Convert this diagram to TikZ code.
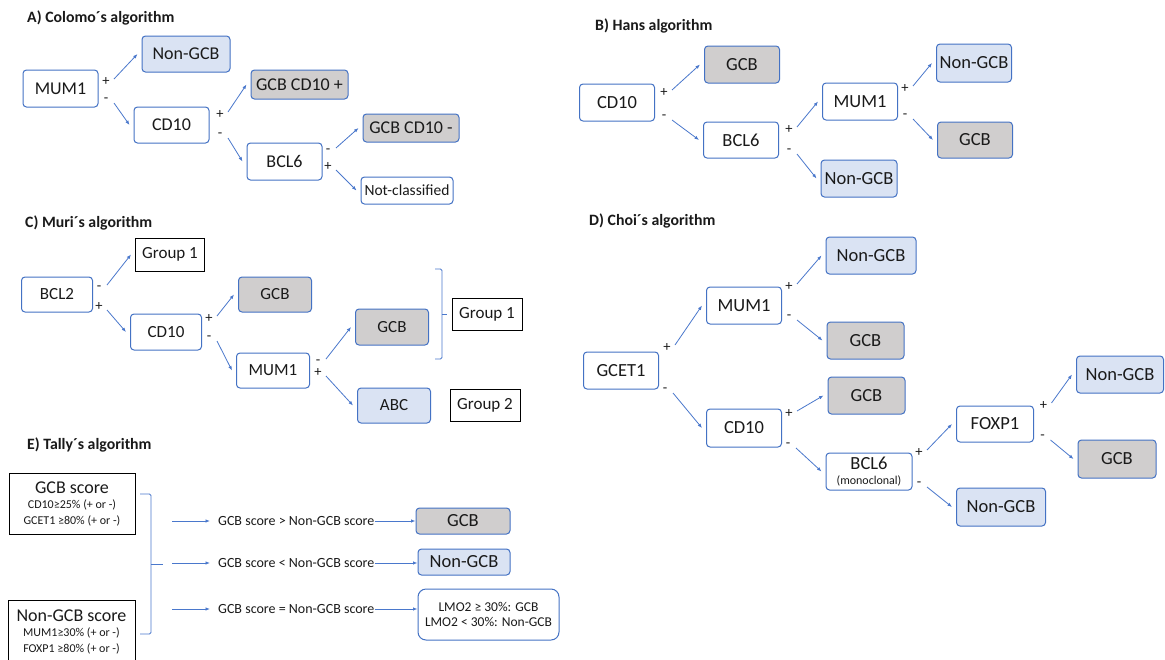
\documentclass[tikz,border=0pt]{standalone}
\usepackage{fontspec}
\setmainfont{Carlito}
\usetikzlibrary{arrows.meta}
\definecolor{edgeblue}{HTML}{4472C4}
\definecolor{lineblue}{HTML}{4A78CC}
\definecolor{bluefill}{HTML}{DAE3F3}
\definecolor{grayfill}{HTML}{D0CECE}
\definecolor{ink}{HTML}{1A1A1A}
\begin{document}
\begin{tikzpicture}[x=1pt,y=-1pt,
  wh/.style 2 args={minimum width=#1,minimum height=#2},
  rbox/.style={draw=edgeblue,line width=1pt,rounded corners=3.5pt,fill=white,inner sep=0pt,text=ink},
  nbox/.style={rbox,fill=bluefill},
  gbox/.style={rbox,fill=grayfill},
  sqbox/.style={draw=black,line width=1pt,fill=white,inner sep=0pt,text=ink},
  sign/.style={inner sep=0pt,font=\fontsize{14.5}{14.5}\selectfont,text=ink},
  ttl/.style={anchor=west,inner sep=0pt,font=\bfseries\fontsize{15.8}{18}\selectfont,text=ink},
  rowtxt/.style={anchor=west,inner xsep=0pt,inner ysep=2pt,font=\fontsize{14}{15}\selectfont,text=ink},
  arr/.style={draw=lineblue,line width=0.8pt,-{Latex[length=4.5pt,width=3.5pt]}},
  brk/.style={draw=lineblue,line width=0.9pt,rounded corners=1.5pt},
  upoff/.style={shift={(8,-3)}},
  dnoff/.style={shift={(8,3)}},
  endoff/.style={xshift=-4pt}
]
\fill[white] (0,0) rectangle (1165,659);
\useasboundingbox (0,0) rectangle (1165,659);

% ---------- A) Colomo
\node[ttl] (aT) at (27,18) {A) Colomo´s algorithm};
\begin{scope}[font=\fontsize{18}{20}\selectfont]
\node[rbox,wh={75}{37}] (aMUM) at (60.5,88.5) {MUM1};
\node[nbox,wh={88}{36}] (aNon) at (186,54) {Non-GCB};
\node[rbox,wh={75}{36}] (aCD) at (171.5,125) {CD10};
\node[gbox,wh={97}{29}] (aG1) at (299.5,84.5) {GCB CD10 +};
\node[rbox,wh={75}{37}] (aBCL) at (284.5,161.5) {BCL6};
\node[gbox,wh={96}{28}] (aG2) at (411,128) {GCB CD10 -};
\node[rbox,wh={92}{27},font=\fontsize{15.5}{17}\selectfont] (aNC) at (407,190.5) {Not-classified};
\end{scope}
\node[sign] (aP1) at (106,82) {+};
\node[sign] (aM1) at (106,100) {-};
\node[sign] (aP2) at (220,115) {+};
\node[sign] (aM2) at (220,135) {-};
\node[sign] (aM3) at (328,151) {-};
\node[sign] (aP3) at (328,167) {+};
\draw[arr] ([upoff]aP1.center) -- ([endoff]aNon.west);
\draw[arr] ([dnoff]aM1.center) -- ([endoff]aCD.west);
\draw[arr] ([upoff]aP2.center) -- ([endoff]aG1.west);
\draw[arr] ([dnoff]aM2.center) -- ([endoff]aBCL.west);
\draw[arr] ([upoff]aM3.center) -- ([endoff]aG2.west);
\draw[arr] ([dnoff]aP3.center) -- ([endoff]aNC.west);

% ---------- B) Hans
\node[ttl] (bT) at (595,26) {B) Hans algorithm};
\begin{scope}[font=\fontsize{18.5}{20}\selectfont]
\node[rbox,wh={75}{37}] (bCD) at (617,102.5) {CD10};
\node[gbox,wh={75}{37}] (bG1) at (742,64.5) {GCB};
\node[rbox,wh={75}{36}] (bBCL) at (741,140) {BCL6};
\node[rbox,wh={75}{37}] (bMUM) at (860,101.5) {MUM1};
\node[nbox,wh={75}{38}] (bN1) at (974,63) {Non-GCB};
\node[gbox,wh={75}{36}] (bG2) at (975,140) {GCB};
\node[nbox,wh={76}{37}] (bN2) at (859,178.5) {Non-GCB};
\end{scope}
\node[sign] (bP1) at (664,93) {+};
\node[sign] (bM1) at (664,117) {-};
\node[sign] (bP2) at (789,130) {+};
\node[sign] (bM2) at (789,151) {-};
\node[sign] (bP3) at (905,89) {+};
\node[sign] (bM3) at (905,116) {-};
\draw[arr] ([upoff]bP1.center) -- ([endoff]bG1.west);
\draw[arr] ([dnoff]bM1.center) -- ([endoff]bBCL.west);
\draw[arr] ([upoff]bP2.center) -- ([endoff]bMUM.west);
\draw[arr] ([dnoff]bM2.center) -- ([endoff]bN2.west);
\draw[arr] ([upoff]bP3.center) -- ([endoff]bN1.west);
\draw[arr] ([dnoff]bM3.center) -- ([endoff]bG2.west);

% ---------- C) Muri
\node[ttl] (cT) at (25,223) {C) Muri´s algorithm};
\begin{scope}[font=\fontsize{17}{19}\selectfont]
\node[sqbox,wh={69}{33}] (cGr0) at (170,254.5) {Group 1};
\node[rbox,wh={71}{35}] (cBCL) at (57,294.5) {BCL2};
\node[rbox,wh={71}{36}] (cCD) at (166,332) {CD10};
\node[gbox,wh={73}{35}] (cG1) at (275,294.5) {GCB};
\node[rbox,wh={73}{35}] (cMUM) at (273,370.5) {MUM1};
\node[gbox,wh={73}{36}] (cG2) at (392,327) {GCB};
\node[nbox,wh={73}{35}] (cABC) at (394,405.5) {ABC};
\node[sqbox,wh={70}{32}] (cGr1) at (487,314) {Group 1};
\node[sqbox,wh={70}{32}] (cGr2) at (485,405) {Group 2};
\end{scope}
\node[sign] (cM1) at (99,288) {-};
\node[sign] (cP1) at (99,307) {+};
\node[sign] (cP2) at (209,319) {+};
\node[sign] (cM2) at (209,338) {-};
\node[sign] (cM3) at (318,362) {-};
\node[sign] (cP3) at (318,373) {+};
\draw[arr] ([upoff]cM1.center) -- ([endoff]cGr0.west);
\draw[arr] ([dnoff]cP1.center) -- ([endoff]cCD.west);
\draw[arr] ([upoff]cP2.center) -- ([endoff]cG1.west);
\draw[arr] ([dnoff]cM2.center) -- ([endoff]cMUM.west);
\draw[arr] ([upoff]cM3.center) -- ([endoff]cG2.west);
\draw[arr] ([dnoff]cP3.center) -- ([endoff]cABC.west);
% bracket grouping the upper branches
\coordinate (cBt) at (435,269);
\coordinate (cBb) at (435,359);
\coordinate (cBm) at (442,314);
\draw[brk] (cBt) -- ++(7,0) -- ++(0,90) -- (cBb);
\draw[brk] (cBm) -- ++(4.5,0);

% ---------- D) Choi
\node[ttl] (dT) at (589,221) {D) Choi´s algorithm};
\begin{scope}[font=\fontsize{18.5}{20}\selectfont]
\node[rbox,wh={75}{37}] (dGC) at (621,370.5) {GCET1};
\node[rbox,wh={75}{37}] (dMUM) at (744,305.5) {MUM1};
\node[rbox,wh={75}{38}] (dCD) at (744,428) {CD10};
\node[nbox,wh={90}{37}] (dN1) at (871,255.5) {Non-GCB};
\node[gbox,wh={77}{37}] (dG1) at (865.5,340.5) {GCB};
\node[gbox,wh={77}{37}] (dG2) at (866.5,395.5) {GCB};
\node[rbox,wh={86}{37},align=center] (dBCL) at (869,471.5) {BCL6\\[-5pt]{\fontsize{12}{12}\selectfont (monoclonal)}};
\node[rbox,wh={77}{36}] (dFOX) at (995,424) {FOXP1};
\node[nbox,wh={89}{38}] (dN2) at (1001,507) {Non-GCB};
\node[nbox,wh={87}{37}] (dN3) at (1120,374.5) {Non-GCB};
\node[gbox,wh={78}{38}] (dG3) at (1117,459) {GCB};
\end{scope}
\node[sign] (dP1) at (667,348) {+};
\node[sign] (dM1) at (665,390) {-};
\node[sign] (dP2) at (789,287) {+};
\node[sign] (dM2) at (789,317) {-};
\node[sign] (dP3) at (789,414) {+};
\node[sign] (dM3) at (788,445) {-};
\node[sign] (dP4) at (919,453) {+};
\node[sign] (dM4) at (919,484) {-};
\node[sign] (dP5) at (1043.5,406) {+};
\node[sign] (dM5) at (1042.5,437) {-};
\draw[arr] ([upoff]dP1.center) -- ([endoff]dMUM.west);
\draw[arr] ([dnoff]dM1.center) -- ([endoff]dCD.west);
\draw[arr] ([upoff]dP2.center) -- ([endoff]dN1.west);
\draw[arr] ([dnoff]dM2.center) -- ([endoff]dG1.west);
\draw[arr] ([upoff]dP3.center) -- ([endoff]dG2.west);
\draw[arr] ([dnoff]dM3.center) -- ([endoff]dBCL.west);
\draw[arr] ([upoff]dP4.center) -- ([endoff]dFOX.west);
\draw[arr] ([dnoff]dM4.center) -- ([endoff]dN2.west);
\draw[arr] ([upoff]dP5.center) -- ([endoff]dN3.west);
\draw[arr] ([dnoff]dM5.center) -- ([endoff]dG3.west);

% ---------- E) Tally
\node[ttl] (eT) at (27,445) {E) Tally´s algorithm};
\node[sqbox,wh={126}{61},align=center,font=\fontsize{12}{15.5}\selectfont] (eS1) at (72,503.5)
  {{\fontsize{18}{20}\selectfont GCB score}\\CD10≥25\% (+ or -)\\GCET1 ≥80\% (+ or -)};
\node[sqbox,wh={127}{63},align=center,font=\fontsize{12}{15.5}\selectfont] (eS2) at (71.5,631.5)
  {{\fontsize{18}{20}\selectfont Non-GCB score}\\MUM1≥30\% (+ or -)\\FOXP1 ≥80\% (+ or -)};
% brace joining both scores
\coordinate (eBt) at (140,494);
\coordinate (eBb) at (140,634);
\coordinate (eBm) at (151,564);
\draw[brk] (eBt) -- ++(11,0) -- ++(0,140) -- (eBb);
\draw[brk] (eBm) -- ++(12,0);
\begin{scope}[font=\fontsize{18.5}{20}\selectfont]
\node[gbox,wh={94}{26}] (eG) at (463,521) {GCB};
\node[nbox,wh={92}{26}] (eN) at (464,562) {Non-GCB};
\end{scope}
\node[rbox,rounded corners=8pt,wh={141}{51},align=center,font=\fontsize{13.5}{15}\selectfont] (eL) at (488.5,614.5)
  {LMO2 ≥ 30\%: GCB\\LMO2 < 30\%: Non-GCB};
\coordinate (e1) at (172,521);
\coordinate (e2) at (172,563);
\coordinate (e3) at (172,609);
\node[rowtxt] (t1) at (218,521) {GCB score > Non-GCB score};
\node[rowtxt] (t2) at (218,563) {GCB score < Non-GCB score};
\node[rowtxt] (t3) at (218,609) {GCB score = Non-GCB score};
\draw[arr] (e1) -- ([xshift=-8pt]t1.west);
\draw[arr] (e2) -- ([xshift=-8pt]t2.west);
\draw[arr] (e3) -- ([xshift=-8pt]t3.west);
\draw[arr] (t1.east) -- (t1.east -| eG.west);
\draw[arr] (t2.east) -- (t2.east -| eN.west);
\draw[arr] (t3.east) -- (t3.east -| eL.west);
\end{tikzpicture}
\end{document}
